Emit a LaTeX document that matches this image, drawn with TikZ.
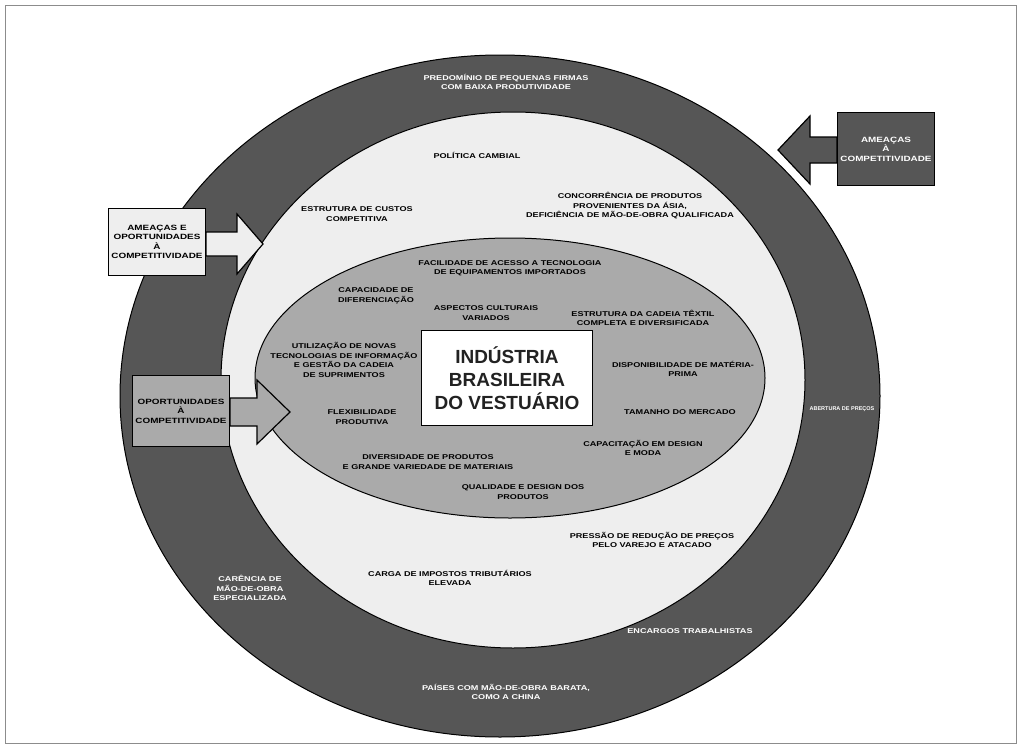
\documentclass[tikz,border=0pt]{standalone}
\usepackage{fontspec}
\setmainfont{Liberation Sans}
\newfontfamily\widesans[FakeStretch=1.3]{Liberation Sans}
\usetikzlibrary{calc}
\definecolor{ringdark}{HTML}{565656}
\definecolor{ringlight}{HTML}{EEEEEE}
\definecolor{coregray}{HTML}{AAAAAA}
\definecolor{framegray}{HTML}{8C8C8C}
\definecolor{titleink}{HTML}{222222}
% block arrow: style, start, tip, shaft half, head half, head length
\newcommand{\blockarrow}[6]{%
  \draw[#1] let \p1=(#2), \p2=(#3) in
    (\x1,{\y2+#4}) -- ({\x2-#6},{\y2+#4}) -- ({\x2-#6},{\y2+#5}) -- (\x2,\y2)
    -- ({\x2-#6},{\y2-#5}) -- ({\x2-#6},{\y2-#4}) -- (\x1,{\y2-#4}) -- cycle;}
\begin{document}
\begin{tikzpicture}[x=1pt,y=-1pt,
  ring/.style={draw=black, line width=1pt},
  lbl/.style={align=center, inner sep=0pt, font=\widesans\fontsize{7}{9.5}\selectfont\bfseries},
  lblwhite/.style={lbl, text=white},
  sidebox/.style={draw=black, line width=1.2pt, minimum width=97pt, minimum height=70pt,
    align=center, inner sep=2pt, font=\widesans\fontsize{7.6}{9.5}\selectfont\bfseries},
  arrowline/.style={draw=black, line width=1.2pt, line join=miter},
  titlebox/.style={draw=black, fill=white, line width=0.8pt, minimum width=171pt,
    minimum height=95pt, align=center, text=titleink,
    font=\fontsize{19}{23}\selectfont\bfseries}]
\useasboundingbox (0,0) rectangle (1021,747);
\draw[framegray, line width=0.8pt] (5,5) rectangle (1016,743);

% rings
\draw[ring, fill=ringdark] (500,396) ellipse [x radius=380pt, y radius=341pt];
\draw[ring, fill=ringlight] (513,380) ellipse [x radius=292pt, y radius=268pt];
\draw[ring, fill=coregray] (510,378) ellipse [x radius=255pt, y radius=140pt];

% side boxes and their arrows
\coordinate (tipthreat) at (778,150);
\coordinate (tipmixed) at (263,244);
\coordinate (tipchance) at (290,412);
\path (886,149) coordinate (threatpos) (157,242) coordinate (mixedpos) (181,411) coordinate (chancepos);
\node[sidebox, minimum height=73pt] (threat) at (threatpos) {\phantom{X}};
\node[sidebox, minimum height=67pt] (mixed) at (mixedpos) {\phantom{X}};
\node[sidebox, minimum height=71pt] (chance) at (chancepos) {\phantom{X}};
\blockarrow{arrowline, fill=ringdark}{threat.west}{tipthreat}{13pt}{34pt}{(-32pt)}
\blockarrow{arrowline, fill=ringlight}{mixed.east}{tipmixed}{12pt}{30pt}{26pt}
\blockarrow{arrowline, fill=coregray}{chance.east}{tipchance}{14pt}{32pt}{33pt}
\node[sidebox, minimum height=73pt, fill=ringdark, text=white] at (threatpos) {AMEAÇAS\\À\\COMPETITIVIDADE};
\node[sidebox, minimum height=67pt, fill=ringlight] at (mixedpos) {AMEAÇAS E\\OPORTUNIDADES\\À\\COMPETITIVIDADE};
\node[sidebox, minimum height=71pt, fill=coregray] at (chancepos) {OPORTUNIDADES\\À\\COMPETITIVIDADE};

% centre
\node[titlebox] (industry) at (507,378) {INDÚSTRIA\\BRASILEIRA\\DO VESTUÁRIO};

% outer ring texts
\node[lblwhite] (firms) at (506,82) {PREDOMÍNIO DE PEQUENAS FIRMAS\\COM BAIXA PRODUTIVIDADE};
\node[lblwhite, font=\fontsize{5.5}{7}\selectfont\bfseries] (opening) at (842,409) {ABERTURA DE PREÇOS};
\node[lblwhite] (labour) at (250,588) {CARÊNCIA DE\\MÃO-DE-OBRA\\ESPECIALIZADA};
\node[lblwhite] (charges) at (690,631) {ENCARGOS TRABALHISTAS};
\node[lblwhite] (china) at (506,692) {PAÍSES COM MÃO-DE-OBRA BARATA,\\COMO A CHINA};

% middle ring texts
\node[lbl] (exchange) at (477,155) {POLÍTICA CAMBIAL};
\node[lbl] (costs) at (357,214) {ESTRUTURA DE CUSTOS\\COMPETITIVA};
\node[lbl] (imports) at (630,206) {CONCORRÊNCIA DE PRODUTOS\\PROVENIENTES DA ÁSIA,\\DEFICIÊNCIA DE MÃO-DE-OBRA QUALIFICADA};
\node[lbl] (retail) at (652,540) {PRESSÃO DE REDUÇÃO DE PREÇOS\\PELO VAREJO E ATACADO};
\node[lbl] (taxes) at (450,578) {CARGA DE IMPOSTOS TRIBUTÁRIOS\\ELEVADA};

% core texts
\node[lbl] (tech) at (510,268) {FACILIDADE DE ACESSO A TECNOLOGIA\\DE EQUIPAMENTOS IMPORTADOS};
\node[lbl] (diff) at (376,296) {CAPACIDADE DE\\DIFERENCIAÇÃO};
\node[lbl] (culture) at (486,313) {ASPECTOS CULTURAIS\\VARIADOS};
\node[lbl] (chain) at (643,318) {ESTRUTURA DA CADEIA TÊXTIL\\COMPLETA E DIVERSIFICADA};
\node[lbl] (info) at (344,360) {UTILIZAÇÃO DE NOVAS\\TECNOLOGIAS DE INFORMAÇÃO\\E GESTÃO DA CADEIA\\DE SUPRIMENTOS};
\node[lbl] (flex) at (362,417) {FLEXIBILIDADE\\PRODUTIVA};
\node[lbl] (supply) at (683,369) {DISPONIBILIDADE DE MATÉRIA-\\PRIMA};
\node[lbl] (market) at (680,412) {TAMANHO DO MERCADO};
\node[lbl] (design) at (643,448) {CAPACITAÇÃO EM DESIGN\\E MODA};
\node[lbl] (variety) at (428,462) {DIVERSIDADE DE PRODUTOS\\E GRANDE VARIEDADE DE MATERIAIS};
\node[lbl] (quality) at (523,492) {QUALIDADE E DESIGN DOS\\PRODUTOS};
\end{tikzpicture}
\end{document}
